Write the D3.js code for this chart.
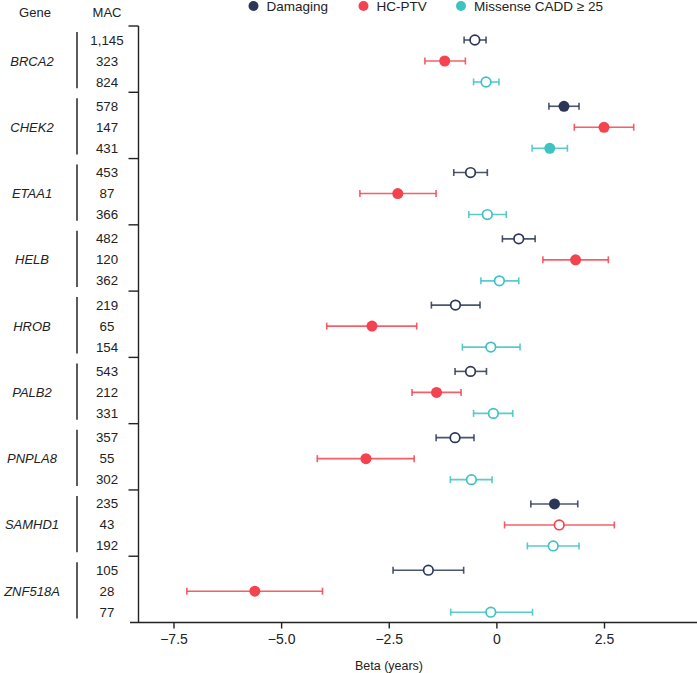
<!DOCTYPE html>
<html>
<head>
<meta charset="utf-8">
<script src="https://cdn.jsdelivr.net/npm/d3@7"></script>
<style>
  body { margin: 0; background: #fff; }
  svg { display: block; font-family: "Liberation Sans", Arial, Helvetica, sans-serif; }
</style>
</head>
<body>
<div id="chart"></div>
<script>
const genes = ["BRCA2", "CHEK2", "ETAA1", "HELB", "HROB", "PALB2", "PNPLA8", "SAMHD1", "ZNF518A"];
const series = ["Damaging", "HC-PTV", "Missense CADD \u2265 25"];
const colors = ["#2c3757", "#f4434f", "#3ec2c2"];

// MAC per gene: [Damaging, HC-PTV, Missense]
const mac = [
  [1145, 323, 824], [578, 147, 431], [453, 87, 366], [482, 120, 362], [219, 65, 154],
  [543, 212, 331], [357, 55, 302], [235, 43, 192], [105, 28, 77]
];

// beta, lower, upper per series (in gene order)
const damagingBeta = [-0.50, 1.57, -0.60, 0.52, -0.95, -0.60, -0.96, 1.35, -1.58];
const damagingLo   = [-0.75, 1.22, -0.99, 0.14, -1.51, -0.96, -1.40, 0.80, -2.40];
const damagingHi   = [-0.24, 1.92, -0.21, 0.90, -0.38, -0.23, -0.52, 1.89, -0.76];
const damagingSig  = [0, 1, 0, 0, 0, 0, 0, 1, 0];

const ptvBeta = [-1.20, 2.50, -2.29, 1.84, -2.89, -1.39, -3.03, 1.46, -5.61];
const ptvLo   = [-1.66, 1.81, -3.17, 1.08, -3.94, -1.96, -4.16, 0.19, -7.19];
const ptvHi   = [-0.72, 3.19, -1.40, 2.60, -1.85, -0.82, -1.91, 2.74, -4.04];
const ptvSig  = [1, 1, 1, 1, 1, 1, 1, 0, 1];

const missBeta = [-0.24, 1.24, -0.21, 0.07, -0.13, -0.07, -0.58, 1.32, -0.13];
const missLo   = [-0.53, 0.83, -0.64, -0.36, -0.79, -0.53, -1.07, 0.72, -1.06];
const missHi   = [0.06, 1.65, 0.23, 0.52, 0.55, 0.38, -0.10, 1.92, 0.84];
const missSig  = [0, 1, 0, 0, 0, 0, 0, 0, 0];

const xTicks = [-7.5, -5.0, -2.5, 0, 2.5];

const betas = [damagingBeta, ptvBeta, missBeta];
const los = [damagingLo, ptvLo, missLo];
const his = [damagingHi, ptvHi, missHi];
const sigs = [damagingSig, ptvSig, missSig];

const rows = [];
genes.forEach((g, gi) => {
  series.forEach((s, si) => {
    rows.push({
      gene: g, series: s, si: si,
      mac: mac[gi][si],
      beta: betas[si][gi], lo: los[si][gi], hi: his[si][gi],
      sig: sigs[si][gi] === 1
    });
  });
});

const width = 697, height = 673;
const axisX = 138.5, axisTop = 26, axisBottom = 622.5;

const svg = d3.select("#chart").append("svg")
  .attr("width", width)
  .attr("height", height);

const x = d3.scaleLinear().domain([-8.51, 4.66]).range([130, 697]);
const yGene = d3.scaleBand().domain(genes).range([axisTop, axisBottom]).padding(0);
const yRow = d3.scalePoint().domain(series).range([14, 56]);
const color = d3.scaleOrdinal().domain(series).range(colors);
const rowY = d => yGene(d.gene) + yRow(d.series);

/* Headers */
svg.append("text").attr("x", 35).attr("y", 17).attr("text-anchor", "middle")
  .attr("font-size", 13).attr("fill", "#222").text("Gene");
svg.append("text").attr("x", 107).attr("y", 17).attr("text-anchor", "middle")
  .attr("font-size", 13).attr("fill", "#222").text("MAC");

/* Legend */
const legendX = [253.5, 363.5, 461];
const legend = svg.append("g").selectAll("g")
  .data(series)
  .join("g")
  .attr("transform", (d, i) => `translate(${legendX[i]},6)`);
legend.append("circle").attr("r", 5).attr("fill", d => color(d));
legend.append("text").attr("x", 13).attr("y", 5)
  .attr("font-size", 13.5).attr("fill", "#222").text(d => d);

/* Gene labels and brackets */
const geneG = svg.append("g").selectAll("g").data(genes).join("g");
geneG.append("text")
  .attr("x", 32)
  .attr("y", g => yGene(g) + yRow(series[1]) + 4.5)
  .attr("text-anchor", "middle")
  .attr("font-size", 13)
  .attr("font-style", "italic")
  .attr("fill", "#222")
  .text(g => g);
geneG.append("line")
  .attr("x1", 77).attr("x2", 77)
  .attr("y1", g => yGene(g) + 6)
  .attr("y2", g => yGene(g) + yGene.bandwidth() - 4)
  .attr("stroke", "#333").attr("stroke-width", 1.6);

/* MAC labels */
svg.append("g").selectAll("text").data(rows).join("text")
  .attr("x", 107)
  .attr("y", d => rowY(d) + 4.5)
  .attr("text-anchor", "middle")
  .attr("font-size", 13.3)
  .attr("fill", "#222")
  .text(d => d3.format(",")(d.mac));

/* Y axis line with group ticks */
const yAxisG = svg.append("g");
yAxisG.append("line")
  .attr("x1", axisX).attr("x2", axisX)
  .attr("y1", axisTop).attr("y2", axisBottom)
  .attr("stroke", "#222").attr("stroke-width", 1.4);
yAxisG.selectAll("line.sep")
  .data(genes)
  .join("line")
  .attr("class", "sep")
  .attr("x1", 128.5).attr("x2", axisX)
  .attr("y1", g => yGene(g)).attr("y2", g => yGene(g))
  .attr("stroke", "#222").attr("stroke-width", 1.4);

/* X axis */
const xAxis = d3.axisBottom(x)
  .tickValues(xTicks)
  .tickSize(6)
  .tickPadding(6)
  .tickFormat(v => v === 0 ? "0" : d3.format(".1f")(v));
const xg = svg.append("g")
  .attr("transform", `translate(0,${axisBottom})`)
  .call(xAxis);
xg.select(".domain").attr("stroke", "#222").attr("stroke-width", 1.4)
  .attr("d", `M${x.range()[0]},0H${x.range()[1]}`);
xg.selectAll(".tick line").attr("stroke", "#222").attr("stroke-width", 1.4);
xg.selectAll(".tick text")
  .attr("font-size", 14)
  .attr("fill", "#222")
  .attr("font-family", "Liberation Sans, Arial, sans-serif");

svg.append("text")
  .attr("x", 389).attr("y", 670)
  .attr("text-anchor", "middle")
  .attr("font-size", 12.5)
  .attr("fill", "#222")
  .text("Beta (years)");

/* Error bars and points */
const marks = svg.append("g").selectAll("g").data(rows).join("g");
marks.append("line")
  .attr("x1", d => x(d.lo)).attr("x2", d => x(d.hi))
  .attr("y1", rowY).attr("y2", rowY)
  .attr("stroke", d => color(d.series))
  .attr("stroke-opacity", 0.85)
  .attr("stroke-width", 1.6);
marks.append("line")
  .attr("x1", d => x(d.lo)).attr("x2", d => x(d.lo))
  .attr("y1", d => rowY(d) - 3.5).attr("y2", d => rowY(d) + 3.5)
  .attr("stroke", d => color(d.series))
  .attr("stroke-opacity", 0.85)
  .attr("stroke-width", 1.6);
marks.append("line")
  .attr("x1", d => x(d.hi)).attr("x2", d => x(d.hi))
  .attr("y1", d => rowY(d) - 3.5).attr("y2", d => rowY(d) + 3.5)
  .attr("stroke", d => color(d.series))
  .attr("stroke-opacity", 0.85)
  .attr("stroke-width", 1.6);
marks.append("circle")
  .attr("cx", d => x(d.beta))
  .attr("cy", rowY)
  .attr("r", d => d.sig ? 5.5 : 4.8)
  .attr("fill", d => d.sig ? color(d.series) : "#fff")
  .attr("stroke", d => color(d.series))
  .attr("stroke-width", d => d.sig ? 0 : 1.7);
</script>
</body>
</html>
